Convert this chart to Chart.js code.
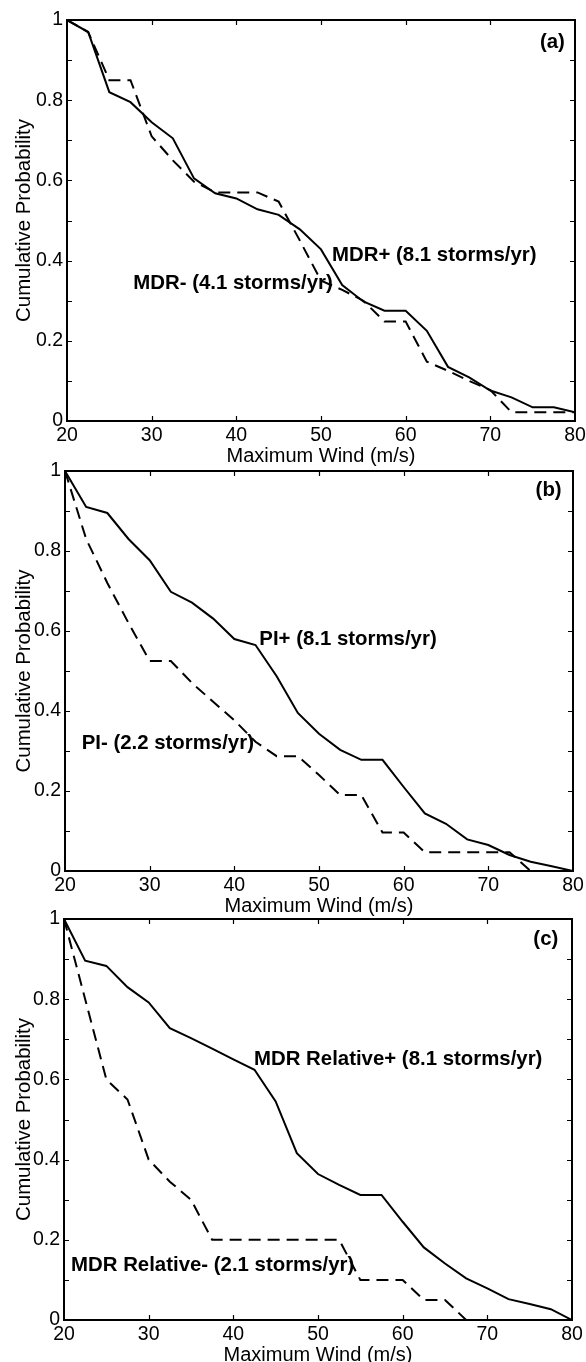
<!DOCTYPE html>
<html><head><meta charset="utf-8">
<script src="https://cdn.jsdelivr.net/npm/chart.js@4/dist/chart.umd.min.js"></script>
<style>
html,body{margin:0;padding:0;background:#fff;overflow:hidden;width:586px;height:1362px;position:relative;}
canvas{position:absolute;left:0;}
</style></head><body>
<canvas id="ca" width="586" height="470" style="top:0px"></canvas>
<canvas id="cb" width="586" height="470" style="top:450px"></canvas>
<canvas id="cc" width="586" height="470" style="top:898px"></canvas>
<script>
// ---- data ----
const windX = [20, 22.5, 25, 27.5, 30, 32.5, 35, 37.5, 40, 42.5, 45, 47.5, 50, 52.5, 55, 57.5, 60, 62.5, 65, 67.5, 70, 72.5, 75, 77.5, 80];
const xTickLabels = [20, 30, 40, 50, 60, 70, 80];
const yTickLabels = ['0', '0.2', '0.4', '0.6', '0.8', '1'];

const mdrPlus  = [1.0, 0.97, 0.82, 0.795, 0.745, 0.705, 0.605, 0.568, 0.555, 0.528, 0.514, 0.478, 0.428, 0.339, 0.298, 0.275, 0.275, 0.225, 0.135, 0.109, 0.076, 0.059, 0.034, 0.034, 0.022];
const mdrMinus = [1.0, 0.97, 0.85, 0.85, 0.71, 0.65, 0.597, 0.57, 0.57, 0.57, 0.547, 0.45, 0.35, 0.327, 0.30, 0.248, 0.248, 0.148, 0.125, 0.10, 0.077, 0.022, 0.022, 0.022, 0.022];

const piPlus  = [1.0, 0.91, 0.895, 0.83, 0.777, 0.698, 0.671, 0.631, 0.58, 0.565, 0.487, 0.395, 0.343, 0.303, 0.278, 0.278, 0.21, 0.144, 0.118, 0.079, 0.065, 0.04, 0.023, 0.012, 0.0];
const piMinus = [1.0, 0.83, 0.72, 0.62, 0.525, 0.525, 0.47, 0.423, 0.377, 0.323, 0.287, 0.287, 0.24, 0.19, 0.19, 0.096, 0.096, 0.047, 0.047, 0.047, 0.047, 0.047, 0.0, 0.0, 0.0];

const mdrRelPlus  = [1.0, 0.896, 0.883, 0.83, 0.792, 0.728, 0.703, 0.677, 0.65, 0.624, 0.545, 0.416, 0.364, 0.337, 0.312, 0.312, 0.245, 0.181, 0.141, 0.104, 0.079, 0.052, 0.04, 0.027, 0.0];
const mdrRelMinus = [1.0, 0.80, 0.60, 0.55, 0.40, 0.345, 0.30, 0.20, 0.20, 0.20, 0.20, 0.20, 0.20, 0.20, 0.10, 0.10, 0.10, 0.05, 0.05, 0.0, 0.0, 0.0, 0.0, 0.0, 0.0];

const xTitle = 'Maximum Wind (m/s)';
const yTitle = 'Cumulative Probability';

// ---- drawing ----
const FONT = "'Liberation Sans', Arial, Helvetica, sans-serif";

const framePlugin = {
  id: 'frame',
  afterDraw(chart, args, opts) {
    const {ctx, chartArea: a} = chart;
    const x = chart.scales.x, y = chart.scales.y;
    ctx.save();
    ctx.strokeStyle = '#000';
    ctx.lineWidth = 1.2;
    const tl = 5;
    ctx.beginPath();
    y.ticks.forEach(t => {
      if (t.value <= 0.001 || t.value >= 0.999) return;
      const py = Math.round(y.getPixelForValue(t.value)) + 0.5;
      ctx.moveTo(a.left, py); ctx.lineTo(a.left + tl, py);
      ctx.moveTo(a.right, py); ctx.lineTo(a.right - tl, py);
    });
    x.ticks.forEach(t => {
      if (t.value <= 20.001 || t.value >= 79.999) return;
      const px = Math.round(x.getPixelForValue(t.value)) + 0.5;
      ctx.moveTo(px, a.bottom); ctx.lineTo(px, a.bottom - tl);
      ctx.moveTo(px, a.top); ctx.lineTo(px, a.top + tl);
    });
    ctx.stroke();
    ctx.lineWidth = 2;
    ctx.strokeRect(a.left, a.top, a.right - a.left, a.bottom - a.top);
    ctx.fillStyle = '#000';
    ctx.font = 'bold 20.4px ' + FONT;
    ctx.textBaseline = 'middle';
    (opts.items || []).forEach(it => {
      ctx.textAlign = it.align || 'left';
      ctx.fillText(it.text, x.getPixelForValue(it.x), y.getPixelForValue(it.y));
    });
    ctx.restore();
  }
};

function makePanel(id, solid, dashed, P, items) {
  const xH = P.T + P.H - P.bottom;
  new Chart(document.getElementById(id), {
    type: 'line',
    data: {
      datasets: [
        { data: windX.map((v, i) => ({x: v, y: solid[i]})), borderColor: '#000', borderWidth: 2, pointRadius: 0, tension: 0, fill: false },
        { data: windX.map((v, i) => ({x: v, y: dashed[i]})), borderColor: '#000', borderWidth: 2, borderDash: [12, 7], pointRadius: 0, tension: 0, fill: false }
      ]
    },
    options: {
      responsive: false,
      animation: false,
      events: [],
      layout: { padding: { top: P.top - P.T, right: 586 - P.right, left: 0, bottom: 0 } },
      plugins: { legend: { display: false }, tooltip: { enabled: false }, frame: { items } },
      scales: {
        x: {
          type: 'linear', min: 20, max: 80,
          afterBuildTicks: s => { s.ticks = xTickLabels.map(v => ({value: v})); },
          ticks: { font: { family: FONT, size: 19.5 }, color: '#000', padding: 3, maxRotation: 0, autoSkip: false },
          grid: { display: false, drawTicks: false },
          border: { display: false },
          title: { display: true, text: xTitle, color: '#000', font: { family: FONT, size: 20 }, padding: { top: 0, bottom: P.T + P.H - P.bottom - 47.5 } },
          afterFit: s => { s.height = xH; s.paddingLeft = 0; s.paddingRight = 0; }
        },
        y: {
          type: 'linear', min: 0, max: 1,
          ticks: {
            stepSize: 0.1, autoSkip: false, padding: 4, color: '#000',
            font: { family: FONT, size: 19.5 },
            callback: v => { const k = Math.round(v * 10); return (k % 2) ? '' : yTickLabels[k / 2]; }
          },
          grid: { display: false, drawTicks: false },
          border: { display: false },
          title: { display: true, text: yTitle, color: '#000', font: { family: FONT, size: 20.4 }, padding: { top: 12, bottom: 0 } },
          afterFit: s => { s.width = P.left; s.paddingTop = 0; s.paddingBottom = 0; }
        }
      }
    },
    plugins: [framePlugin]
  });
}

makePanel('ca', mdrPlus, mdrMinus, {T: 0, H: 470, left: 67, right: 575, top: 20, bottom: 421}, [
  {text: '(a)', x: 78.8, y: 0.945, align: 'right'},
  {text: 'MDR+ (8.1 storms/yr)', x: 51.3, y: 0.414},
  {text: 'MDR- (4.1 storms/yr)', x: 27.83, y: 0.343}
]);
makePanel('cb', piPlus, piMinus, {T: 450, H: 470, left: 65, right: 573, top: 471, bottom: 871}, [
  {text: '(b)', x: 78.66, y: 0.951, align: 'right'},
  {text: 'PI+ (8.1 storms/yr)', x: 42.95, y: 0.58},
  {text: 'PI- (2.2 storms/yr)', x: 21.97, y: 0.319}
]);
makePanel('cc', mdrRelPlus, mdrRelMinus, {T: 898, H: 470, left: 64, right: 572, top: 919, bottom: 1320}, [
  {text: '(c)', x: 78.38, y: 0.95, align: 'right'},
  {text: 'MDR Relative+ (8.1 storms/yr)', x: 42.44, y: 0.649},
  {text: 'MDR Relative- (2.1 storms/yr)', x: 20.83, y: 0.137}
]);
</script>
</body></html>
